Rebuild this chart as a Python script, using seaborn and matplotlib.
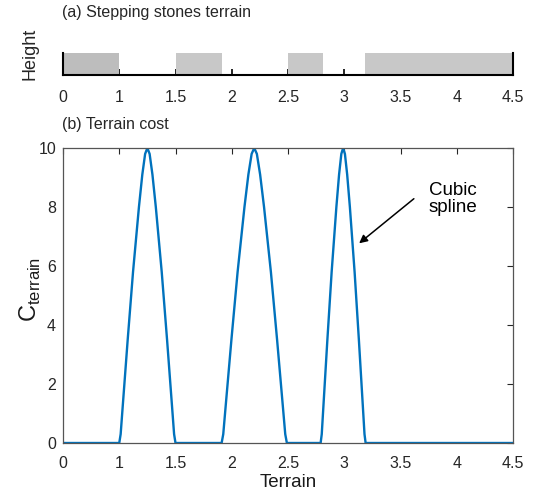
import numpy as np
import pandas as pd
import seaborn as sns
import matplotlib.pyplot as plt
from matplotlib.patches import Rectangle

# stepping stones (start, end) along the terrain, in axis units (0..4)
stone_start = [0.0, 1.0, 2.0, 2.68]
stone_end = [0.5, 1.41, 2.31, 4.0]
stone_color = ['#bdbdbd', '#c8c8c8', '#c8c8c8', '#c8c8c8']

# terrain cost curve
terrain_x = [0.0, 0.5, 0.5125, 0.53, 0.575, 0.6225, 0.675, 0.705, 0.73, 0.75,
             0.77, 0.795, 0.825, 0.8775, 0.925, 0.97, 0.9875, 1.0,
             1.41, 1.4245, 1.4448, 1.497, 1.5521, 1.613, 1.6478, 1.6768, 1.70,
             1.7232, 1.7522, 1.787, 1.8479, 1.903, 1.9552, 1.9755, 1.99,
             2.29, 2.30, 2.314, 2.35, 2.388, 2.43, 2.454, 2.474, 2.49,
             2.506, 2.526, 2.55, 2.592, 2.63, 2.666, 2.68, 2.69, 4.0]
cost = [0, 0, 0.3, 1.2, 3.5, 5.8, 8.0, 9.1, 9.8, 10,
        9.8, 9.1, 8.0, 5.8, 3.5, 1.2, 0.3, 0,
        0, 0.3, 1.2, 3.5, 5.8, 8.0, 9.1, 9.8, 10,
        9.8, 9.1, 8.0, 5.8, 3.5, 1.2, 0.3, 0,
        0, 0.3, 1.2, 3.5, 5.8, 8.0, 9.1, 9.8, 10,
        9.8, 9.1, 8.0, 5.8, 3.5, 1.2, 0.3, 0, 0]

tick_pos = [0, 0.5, 1, 1.5, 2, 2.5, 3, 3.5, 4]
tick_labels = ['0', '1', '1.5', '2', '2.5', '3', '3.5', '4', '4.5']

sns.set_theme(style='white')
plt.rcParams['font.family'] = ['Liberation Sans', 'DejaVu Sans']
plt.rcParams['mathtext.fontset'] = 'custom'
plt.rcParams['mathtext.rm'] = 'Liberation Sans'
plt.rcParams['xtick.direction'] = 'in'
plt.rcParams['ytick.direction'] = 'in'

fig = plt.figure(figsize=(5.43, 4.98), dpi=100)

# (a) stepping stones
ax1 = fig.add_axes([63 / 543, 1 - 75 / 498, 450 / 543, 22 / 498])
for s, e, c in zip(stone_start, stone_end, stone_color):
    ax1.add_patch(Rectangle((s, 0), e - s, 1, facecolor=c, edgecolor='none', zorder=1))
ax1.set_xlim(0, 4)
ax1.set_ylim(0, 1)
ax1.set_xticks(tick_pos)
ax1.set_xticklabels(tick_labels, fontsize=11.5)
ax1.set_yticks([])
ax1.tick_params(axis='x', direction='in', length=4, width=1.2, color='black',
                pad=11, top=False, bottom=True, labelcolor='#262626')
ax1.spines['top'].set_visible(False)
for sp in ['left', 'right', 'bottom']:
    ax1.spines[sp].set_color('black')
    ax1.spines[sp].set_linewidth(1.5)
    ax1.spines[sp].set_zorder(3)
ax1.set_ylabel('Height', fontsize=13)
ax1.yaxis.set_label_coords(-0.055, 0.95)
fig.text(62 / 543, 1 - 13 / 498, '(a) Stepping stones terrain', fontsize=11.5,
         ha='left', va='center', color='#262626')

# (b) terrain cost
ax2 = fig.add_axes([63 / 543, 1 - 443 / 498, 450 / 543, 295 / 498])
df = pd.DataFrame({'x': terrain_x, 'cost': cost})
sns.lineplot(data=df, x='x', y='cost', ax=ax2, color='#0072BD', linewidth=1.7,
             sort=False, estimator=None)
ax2.set_xlim(0, 4)
ax2.set_ylim(0, 10)
ax2.set_xticks(tick_pos)
ax2.set_xticklabels(tick_labels, fontsize=11.5)
ax2.set_yticks([0, 2, 4, 6, 8, 10])
ax2.set_yticklabels(['0', '2', '4', '6', '8', '10'], fontsize=11.5)
ax2.tick_params(axis='both', direction='in', length=4, width=0.8, colors='#262626',
                top=True, right=True, pad=5)
ax2.tick_params(axis='x', pad=9)
for sp in ax2.spines.values():
    sp.set_color('#555555')
    sp.set_linewidth(0.9)
ax2.set_xlabel('Terrain', fontsize=13.5, color='#1a1a1a')
ax2.xaxis.set_label_coords(0.5, -0.105)
ax2.set_ylabel('C$_{\\mathrm{terrain}}$', fontsize=17, color='#1a1a1a')
ax2.yaxis.set_label_coords(-0.044, 0.52)
ax2.annotate('', xy=(2.613, 6.71), xytext=(3.138, 8.34),
             arrowprops=dict(arrowstyle='-|>', color='black', lw=1.1,
                             mutation_scale=12))
ax2.text(3.467, 8.27, 'Cubic\nspline', fontsize=13.5, ha='center', va='center',
         linespacing=1.0, color='black')
fig.text(62 / 543, 1 - 124 / 498, '(b) Terrain cost', fontsize=11.5,
         ha='left', va='center', color='#262626')

fig.savefig('out.png', dpi=100)
